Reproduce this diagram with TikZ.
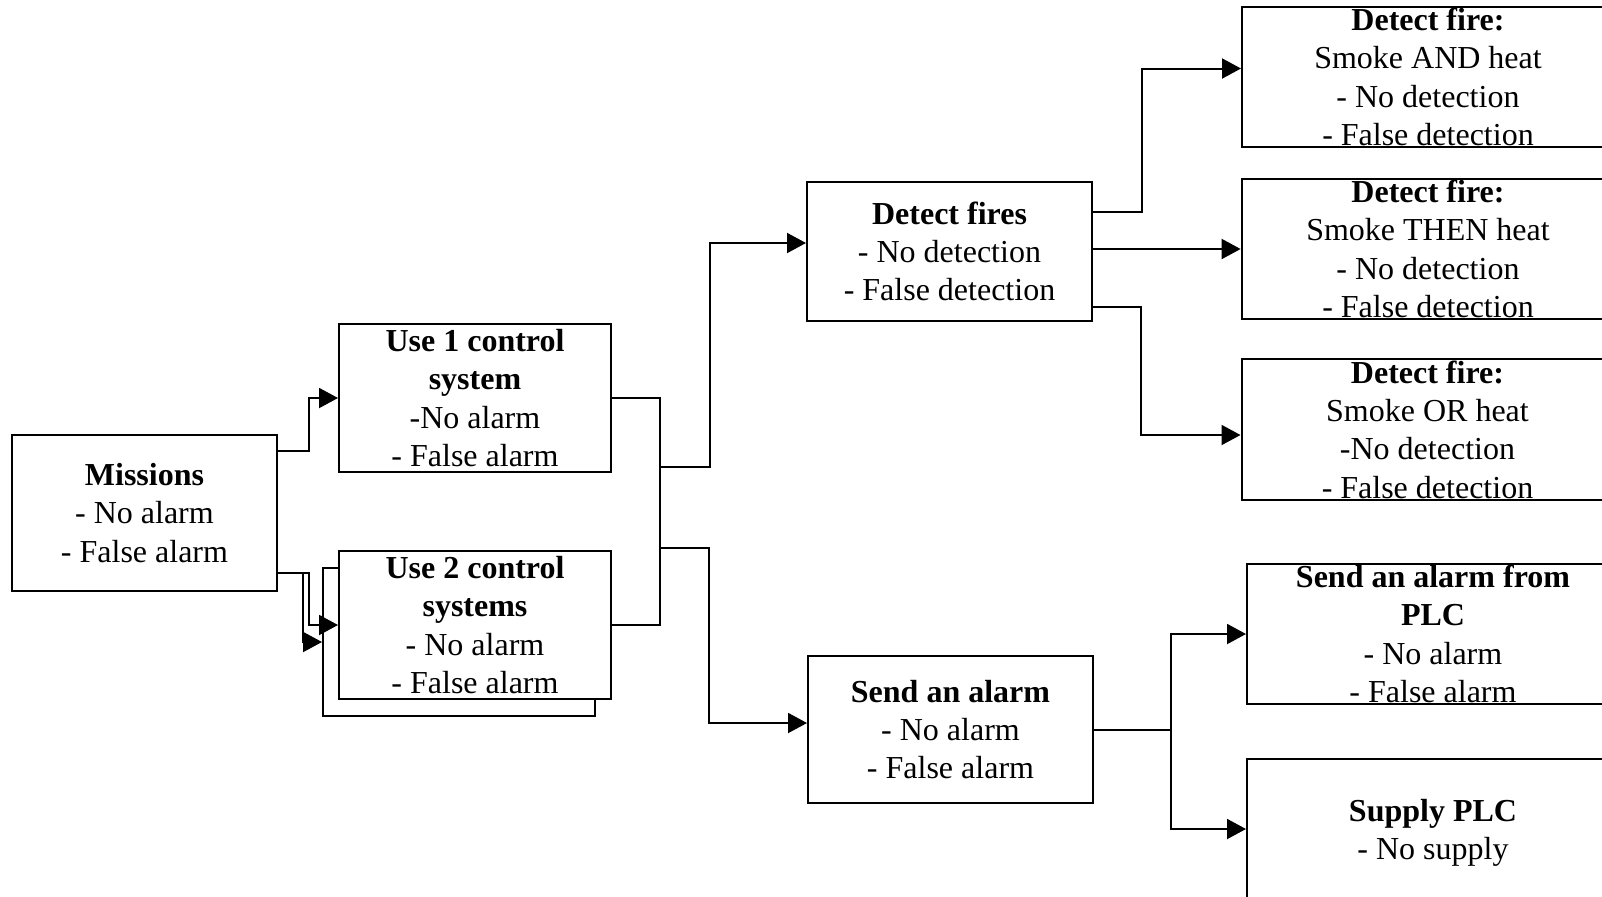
\documentclass[tikz,border=0pt]{standalone}
\usepackage{fontspec}
\setmainfont{Liberation Serif}
\usetikzlibrary{arrows.meta,calc}
\tikzset{
  box/.style={draw=black, line width=1pt, fill=white, inner sep=0pt},
  txt/.style={align=center, inner sep=0pt, font=\fontsize{16pt}{19.15pt}\selectfont},
  wire/.style={draw=black, line width=1pt},
  arr/.style={wire, -{Triangle[length=9.5pt,width=10pt]}},
}
\begin{document}
\begin{tikzpicture}[x=0.5pt,y=-0.5pt]
\useasboundingbox (0,0) rectangle (1602,896);
\fill[white] (0,0) rectangle (1602,896);
\begin{scope}
\clip (0,0) rectangle (1602,896);

% boxes
\node[box, minimum width=132.5pt, minimum height=78pt] (missions) at (144.5,513) {};
\node[box, minimum width=136pt, minimum height=74pt] (use1) at (475,398) {};
\node[box, minimum width=136pt, minimum height=74pt] (use2b) at (459,642) {};
\node[box, minimum width=136pt, minimum height=74pt] (use2) at (475,625) {};
\node[box, minimum width=142.5pt, minimum height=69.5pt] (fires) at (949.5,251.5) {};
\node[box, minimum width=142.5pt, minimum height=73.5pt] (alarm) at (950.5,729.5) {};
\node[box, minimum width=186pt, minimum height=70pt] (fa) at (1428,77) {};
\node[box, minimum width=186pt, minimum height=70pt, line width=1.4pt] (fb) at (1428,249) {};
\node[box, minimum width=186pt, minimum height=70.5pt] (fc) at (1427.5,429.5) {};
\node[box, minimum width=186pt, minimum height=70pt] (pa) at (1433,634) {};
\node[box, minimum width=186pt, minimum height=70pt] (pb) at (1433,829) {};

% texts
\node[txt] (missions-t) at (missions.center) {\textbf{Missions}\\- No alarm\\- False alarm};
\node[txt] (use1-t) at (use1.center) {\textbf{Use 1 control}\\\textbf{system}\\-No alarm\\- False alarm};
\node[txt] (use2-t) at (use2.center) {\textbf{Use 2 control}\\\textbf{systems}\\- No alarm\\- False alarm};
\node[txt] (fires-t) at (fires.center) {\textbf{Detect fires}\\- No detection\\- False detection};
\node[txt] (alarm-t) at (alarm.center) {\textbf{Send an alarm}\\- No alarm\\- False alarm};
\node[txt] (fa-t) at (fa.center) {\textbf{Detect fire:}\\Smoke AND heat\\- No detection\\- False detection};
\node[txt] (fb-t) at (fb.center) {\textbf{Detect fire:}\\Smoke THEN heat\\- No detection\\- False detection};
\node[txt] (fc-t) at (fc.center) {\textbf{Detect fire:}\\Smoke OR heat\\-No detection\\- False detection};
\node[txt] (pa-t) at (pa.center) {\textbf{Send an alarm from}\\\textbf{PLC}\\- No alarm\\- False alarm};
\node[txt] (pb-t) at ($(pb.center)+(0,4)$) {\textbf{Supply PLC}\\- No supply};

% connectors
\draw[arr] ($(missions.east)+(0,-62)$) -- ++(30.5,0) |- (use1.west);
\draw[arr] ($(missions.east)+(0,60)$) -- ++(31,0) |- (use2.west);
\draw[arr] ($(missions.east)+(0,60)$) -- ++(25,0) |- (use2b.west);

\draw[wire] (use1.east) -- ++(48,0) coordinate (ja) |- (use2.east);
\draw[arr] ($(ja)+(0,69)$) -- ++(50,0) |- ($(fires.west)+(0,-8.5)$);
\draw[arr] ($(ja)+(0,150)$) -- ++(49,0) |- ($(alarm.west)+(0,-6.5)$);

\draw[arr] ($(fires.east)+(0,-40)$) -- ++(49,0) |- ($(fa.west)+(0,-8.5)$);
\draw[arr] (fires.east |- fb.west) -- (fb.west);
\draw[arr] ($(fires.east)+(0,55)$) -- ++(48,0) |- ($(fc.west)+(0,5.5)$);

\draw[wire] (alarm.east) -- ++(77,0) coordinate (jb);
\draw[arr] (jb) |- (pa.west);
\draw[arr] (jb) |- (pb.west);
\end{scope}
\end{tikzpicture}
\end{document}
